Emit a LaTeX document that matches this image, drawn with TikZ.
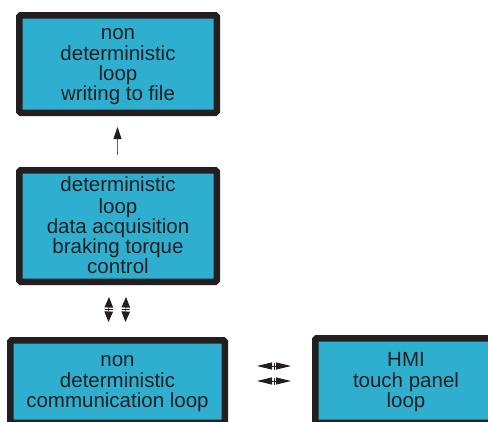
\documentclass[tikz,border=0pt]{standalone}
\usepackage{fontspec}
\setmainfont{Liberation Sans}
\usetikzlibrary{arrows.meta,decorations.markings}
\definecolor{boxfill}{RGB}{47,175,208}
\definecolor{ink}{RGB}{35,31,32}
\tikzset{
  loopbox/.style={draw=ink, fill=boxfill, line width=6.5pt, rounded corners=1.5pt, inner sep=0pt},
  boxtext/.style={text=ink, align=center, inner sep=0pt, font=\fontsize{20.5}{20}\selectfont},
  uparrow/.style={draw=ink!70, line width=0.9pt, -{Triangle[length=12pt,width=8pt,color=ink]}},
  vdouble/.style={draw=ink, line width=0.9pt, {Triangle[length=10.5pt,width=8.5pt]}-{Triangle[length=10.5pt,width=8.5pt]},
    postaction={decorate}, decoration={markings, mark=at position 0.5 with {\draw[-, ink, line width=0.8pt] (0pt,-4pt)--(0pt,4pt);}}},
  hdouble/.style={draw=ink, line width=0.9pt, {Triangle[length=15pt,width=7pt]}-{Triangle[length=15pt,width=7pt]},
    postaction={decorate}, decoration={markings, mark=at position 0.5 with {\draw[-, ink, line width=0.8pt] (0pt,-3.5pt)--(0pt,3.5pt);}}}
}
\begin{document}
\begin{tikzpicture}[x=1pt,y=-1pt]
\useasboundingbox (0,0) rectangle (488,421);
\clip (0,0) rectangle (488,421);
\node[loopbox, minimum width=197.5pt, minimum height=97.5pt] (b1) at (118,64) {};
\node[loopbox, minimum width=197.5pt, minimum height=111.5pt] (b2) at (118,226) {};
\node[loopbox, minimum width=214.5pt, minimum height=82.5pt] (b3) at (117.5,381.5) {};
\node[loopbox, minimum width=181.5pt, minimum height=84.5pt] (b4) at (406,380.5) {};
\node[boxtext] (t1) at (118,66) {\strut non\\deterministic\\loop\\writing to file\strut};
\node[boxtext] (t2) at (118,228) {\strut deterministic\\loop\\data acquisition\\braking torque\\control\strut};
\node[boxtext] (t3) at (117.5,383) {\strut non\\deterministic\\communication loop\strut};
\node[boxtext] (t4) at (406,383) {\strut HMI\\touch panel\\loop\strut};
\draw[uparrow] ([xshift=-0.5pt,yshift=12pt]b2.north) -- ([xshift=-0.5pt,yshift=-11pt]b1.south);
\draw[vdouble] ([xshift=-9pt,yshift=-12pt]b2.south) -- ([xshift=-9pt,yshift=15pt]b3.north);
\draw[vdouble] ([xshift=8pt,yshift=-12pt]b2.south) -- ([xshift=8pt,yshift=15pt]b3.north);
\draw[hdouble] ([xshift=29pt,yshift=15.5pt]b3.east) -- ([xshift=-21pt,yshift=14.5pt]b4.west);
\draw[hdouble] ([xshift=29pt,yshift=0.5pt]b3.east) -- ([xshift=-21pt,yshift=-0.5pt]b4.west);
\end{tikzpicture}
\end{document}
